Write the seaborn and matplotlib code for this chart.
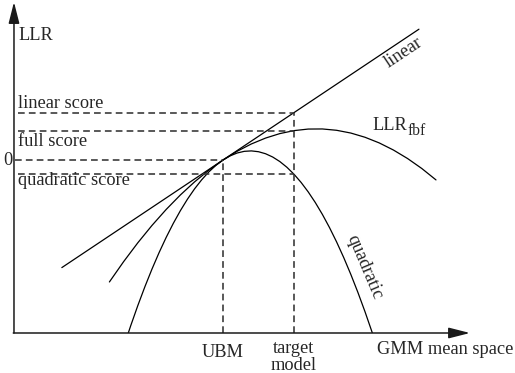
import matplotlib
matplotlib.use("Agg")
import matplotlib.pyplot as plt
from matplotlib.patches import Rectangle
import numpy as np
import pandas as pd
import seaborn as sns

# --- curve data (x: GMM mean space, UBM at 0, target model at 1; y: LLR) ---
linear_x = [-2.27, 2.76]
linear_y = [-2.27, 2.76]

quad_x = [-1.4, -1.3, -1.2, -1.1, -1.0, -0.9, -0.8, -0.7, -0.6, -0.5, -0.4,
          -0.3, -0.2, -0.1, 0.0, 0.1, 0.2, 0.3, 0.4, 0.5, 0.6, 0.7, 0.8,
          0.9, 1.0, 1.1, 1.2, 1.3, 1.4, 1.5, 1.6, 1.7, 1.8, 1.9, 2.0, 2.1, 2.2]
quad_y = [-3.948, -3.497, -3.072, -2.673, -2.300, -1.953, -1.632, -1.337,
          -1.068, -0.825, -0.608, -0.417, -0.252, -0.113, 0.000, 0.087,
          0.148, 0.183, 0.192, 0.175, 0.132, 0.063, -0.032, -0.153, -0.300,
          -0.473, -0.672, -0.897, -1.148, -1.425, -1.728, -2.057, -2.412,
          -2.793, -3.200, -3.633, -4.092]

fbf_x = [-1.6, -1.4, -1.2, -1.0, -0.8, -0.6, -0.4, -0.2, 0.0, 0.2, 0.4, 0.6,
         0.8, 1.0, 1.2, 1.4, 1.6, 1.8, 2.0, 2.2, 2.4, 2.6, 2.8, 3.0]
fbf_y = [-2.573, -2.145, -1.747, -1.380, -1.043, -0.737, -0.461, -0.215,
         0.000, 0.185, 0.339, 0.463, 0.557, 0.620, 0.653, 0.655, 0.627,
         0.569, 0.480, 0.361, 0.211, 0.031, -0.179, -0.420]

ubm_x = 0.0
target_x = 1.0
linear_score = linear_y[0] + (target_x - linear_x[0]) * (linear_y[1] - linear_y[0]) / (linear_x[1] - linear_x[0])
full_score = fbf_y[fbf_x.index(target_x)]
quadratic_score = quad_y[quad_x.index(target_x)]

score_labels = ["linear score", "full score", "quadratic score"]

# --- frame of the sketch ---
x_origin, y_origin = -2.944, -3.65
x_tip, y_tip = 3.479, 3.333

sns.set_theme(style="white")
plt.rcParams["font.family"] = ["Liberation Serif", "DejaVu Serif"]
FS = 13.2

fig = plt.figure(figsize=(5.15, 3.73), dpi=100)
ax = fig.add_axes([0, 0, 1, 1])

# curves
df_lin = pd.DataFrame({"x": linear_x, "y": linear_y})
df_quad = pd.DataFrame({"x": quad_x, "y": quad_y})
df_fbf = pd.DataFrame({"x": fbf_x, "y": fbf_y})
for df in (df_lin, df_fbf, df_quad):
    sns.lineplot(data=df, x="x", y="y", ax=ax, color="black", lw=0.9,
                 sort=False, estimator=None)
clip = Rectangle((x_origin, y_origin), 20, 20, transform=ax.transData)
ax.lines[-1].set_clip_path(clip)

ax.set_xlim(-3.141, 4.113)
ax.set_ylim(-4.494, 3.376)
ax.axis("off")

# axes with arrow heads
arrow = dict(arrowstyle="-|>,head_length=1.3,head_width=0.33", color="#1a1a1a",
             lw=1.1, shrinkA=0, shrinkB=0, mutation_scale=10)
ax.annotate("", xy=(x_origin, y_tip), xytext=(x_origin, y_origin), arrowprops=arrow)
ax.annotate("", xy=(x_tip, y_origin), xytext=(x_origin - 0.01, y_origin), arrowprops=arrow)

# dashed guides
dash = dict(color="#333333", lw=1.15, dashes=(4.2, 2.6))
x_guide = -2.887
ax.plot([x_guide, target_x], [linear_score, linear_score], **dash)
ax.plot([x_guide, target_x], [full_score, full_score], **dash)
ax.plot([x_guide, target_x], [quadratic_score, quadratic_score], **dash)
ax.plot([x_origin + 0.02, ubm_x], [0, 0], **dash)
ax.plot([ubm_x, ubm_x], [y_origin, 0], **dash)
ax.plot([target_x, target_x], [y_origin, linear_score], **dash)

# text
ax.text(-2.887, 2.532, "LLR", fontsize=FS, va="baseline", ha="left")
ax.text(-2.887, 1.097, score_labels[0], fontsize=FS, va="baseline", ha="left")
ax.text(-2.887, 0.306, score_labels[1], fontsize=FS, va="baseline", ha="left")
ax.text(-2.887, -0.527, score_labels[2], fontsize=FS, va="baseline", ha="left")
ax.text(-2.965, 0.0, "0", fontsize=FS, va="center", ha="right")
ax.text(ubm_x, -4.156, "UBM", fontsize=FS, va="baseline", ha="center")
ax.text(target_x, -4.08, "target", fontsize=FS, va="baseline", ha="center")
ax.text(target_x, -4.43, "model", fontsize=FS, va="baseline", ha="center")
ax.text(2.169, -4.093, "GMM mean space", fontsize=FS, va="baseline", ha="left")
ax.text(2.55, 2.26, "linear", fontsize=FS, va="center", ha="center",
        rotation=33.7, rotation_mode="anchor")
ax.text(1.99, -2.27, "quadratic", fontsize=FS, va="center", ha="center",
        rotation=-67, rotation_mode="anchor")
ax.text(2.099, 0.633, "LLR", fontsize=FS, va="baseline", ha="left")
ax.text(2.60, 0.527, "fbf", fontsize=FS * 0.85, va="baseline", ha="left")

fig.savefig("out.png", dpi=100)
